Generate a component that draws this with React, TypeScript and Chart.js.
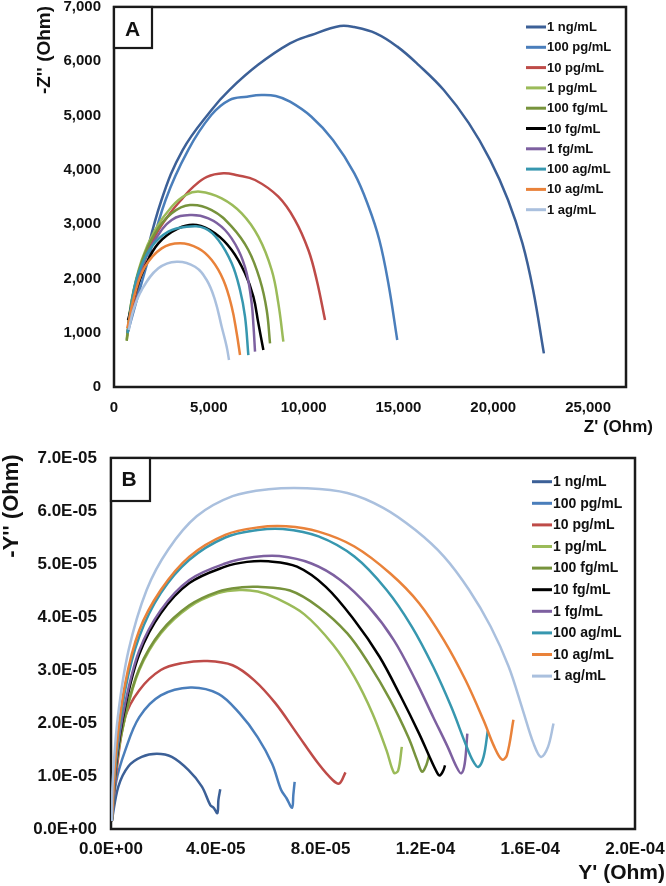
import { useEffect, useRef } from "react";
import { Chart, registerables } from "chart.js";

Chart.register(...registerables);

const LABELS = ["1 ng/mL", "100 pg/mL", "10 pg/mL", "1 pg/mL", "100 fg/mL", "10 fg/mL", "1 fg/mL", "100 ag/mL", "10 ag/mL", "1 ag/mL"];
const COLORS = ["#3C6097", "#4A7EBB", "#BE4B48", "#9BBB59", "#77933C", "#000000", "#7D60A0", "#3797AF", "#E9823A", "#AAC0DE"];

// Panel A: [Z' (Ohm), -Z'' (Ohm)]
const A_1NG: [number, number][] = [[700, 1000], [1550, 2220], [2500, 3440], [3620, 4365], [5130, 5100], [6080, 5470], [7580, 5930], [9280, 6330], [10410, 6485], [11920, 6650], [12670, 6630], [13810, 6515], [14940, 6270], [16070, 5930], [17390, 5470], [18710, 4860], [19840, 4180], [20780, 3445], [21540, 2645], [22100, 1790], [22670, 620]];
const A_100PG: [number, number][] = [[700, 980], [1700, 2215], [2720, 3445], [3910, 4365], [5130, 5010], [6080, 5286], [7020, 5348], [7774, 5378], [8528, 5360], [9283, 5256], [10411, 4979], [11545, 4550], [12674, 3936], [13428, 3321], [13993, 2708], [14467, 1910], [14937, 866]];
const A_10PG: [number, number][] = [[690, 940], [1000, 1500], [1500, 2200], [2200, 2800], [3000, 3220], [3600, 3470], [4190, 3690], [4900, 3870], [5770, 3936], [6500, 3900], [7437, 3813], [8667, 3505], [9546, 3076], [10250, 2523], [10689, 1971], [11129, 1234]];
const A_1PG: [number, number][] = [[670, 866], [932, 1602], [1459, 2339], [2162, 2892], [3041, 3321], [3800, 3540], [4536, 3598], [5679, 3475], [6735, 3199], [7613, 2769], [8315, 2155], [8667, 1541], [8931, 835]];
const A_100FG: [number, number][] = [[670, 850], [932, 1580], [1459, 2300], [2162, 2831], [3041, 3199], [4008, 3352], [5152, 3260], [6207, 2953], [7085, 2523], [7700, 1971], [8052, 1418], [8228, 805]];
const A_10FG: [number, number][] = [[740, 1230], [1107, 1726], [1635, 2216], [2338, 2646], [3393, 2923], [4360, 2984], [5327, 2831], [6207, 2523], [6909, 2094], [7349, 1664], [7613, 1173], [7877, 682]];
const A_1FG: [number, number][] = [[720, 1000], [1000, 1600], [1459, 2216], [2162, 2708], [3041, 3076], [4008, 3168], [4974, 3107], [5854, 2892], [6557, 2523], [6997, 2094], [7261, 1541], [7360, 1100], [7437, 651]];
const A_100AG: [number, number][] = [[720, 990], [950, 1600], [1283, 2094], [1987, 2585], [2866, 2861], [3832, 2953], [4800, 2923], [5503, 2708], [6207, 2278], [6646, 1787], [6909, 1295], [7085, 589]];
const A_10AG: [number, number][] = [[700, 1080], [1107, 1726], [1635, 2216], [2514, 2554], [3481, 2646], [4447, 2554], [5152, 2339], [5767, 1971], [6207, 1479], [6471, 989], [6646, 589]];
const A_1AG: [number, number][] = [[780, 1050], [1020, 1418], [1459, 1787], [2338, 2186], [3305, 2308], [4272, 2216], [4888, 1971], [5327, 1602], [5679, 1111], [5942, 743], [6065, 497]];

// Panel B: [Y' , -Y''] in units of 1E-05
const B_UNIT = 1e-5;
const B_1NG: [number, number][] = [[0.03, 0.15], [0.28, 0.8], [0.66, 1.18], [1.17, 1.36], [1.75, 1.42], [2.32, 1.36], [2.96, 1.11], [3.47, 0.8], [3.79, 0.45], [3.92, 0.4], [4.06, 0.3], [4.1, 0.55], [4.17, 0.75]];
const B_100PG: [number, number][] = [[0.03, 0.15], [0.2, 0.9], [0.54, 1.48], [1.08, 2.11], [1.9, 2.52], [3.03, 2.67], [4.1, 2.55], [4.91, 2.18], [5.6, 1.73], [6.15, 1.23], [6.49, 0.74], [6.7, 0.58], [6.91, 0.4], [6.96, 0.65], [7.01, 0.89]];
const B_10PG: [number, number][] = [[0.03, 0.15], [0.2, 1.05], [0.54, 2.11], [1.08, 2.62], [1.9, 3.0], [2.73, 3.13], [3.68, 3.17], [4.64, 3.09], [5.46, 2.81], [6.28, 2.37], [7.1, 1.8], [7.92, 1.23], [8.47, 0.92], [8.72, 0.86], [8.95, 1.07]];
const B_1PG: [number, number][] = [[0.03, 0.15], [0.2, 1.2], [0.54, 2.11], [1.08, 3.0], [1.9, 3.69], [2.99, 4.19], [4.09, 4.45], [4.9, 4.51], [5.6, 4.48], [6.28, 4.36], [7.38, 4.05], [8.47, 3.48], [9.29, 2.87], [9.98, 2.18], [10.52, 1.48], [10.8, 1.06], [10.96, 1.1], [11.1, 1.55]];
const B_100FG: [number, number][] = [[0.03, 0.15], [0.2, 1.22], [0.54, 2.14], [1.08, 3.03], [1.9, 3.72], [2.99, 4.22], [4.09, 4.48], [5.0, 4.56], [5.6, 4.57], [6.83, 4.5], [7.92, 4.19], [9.02, 3.69], [9.84, 3.12], [10.66, 2.43], [11.35, 1.73], [11.69, 1.29], [11.87, 1.08], [12.03, 1.2], [12.14, 1.39]];
const B_10FG: [number, number][] = [[0.03, 0.15], [0.2, 1.25], [0.54, 2.3], [1.08, 3.3], [1.9, 4.07], [2.99, 4.64], [4.36, 4.95], [5.19, 5.04], [6.01, 5.05], [7.1, 4.95], [8.2, 4.57], [9.29, 3.94], [10.25, 3.25], [11.07, 2.49], [11.76, 1.8], [12.16, 1.36], [12.44, 1.07], [12.55, 1.01], [12.68, 1.1], [12.75, 1.2]];
const B_1FG: [number, number][] = [[0.03, 0.15], [0.2, 1.3], [0.54, 2.37], [1.08, 3.37], [1.9, 4.13], [2.99, 4.7], [4.36, 5.01], [5.46, 5.13], [6.42, 5.15], [7.65, 5.01], [8.75, 4.7], [9.84, 4.19], [10.8, 3.56], [11.62, 2.81], [12.3, 2.11], [12.85, 1.55], [13.19, 1.17], [13.37, 1.05], [13.5, 1.23], [13.6, 1.8]];
const B_100AG: [number, number][] = [[0.03, 0.15], [0.2, 1.35], [0.54, 2.62], [1.08, 3.63], [1.9, 4.45], [2.99, 5.08], [4.36, 5.5], [5.6, 5.64], [6.56, 5.66], [7.92, 5.52], [9.29, 5.14], [10.52, 4.51], [11.48, 3.82], [12.3, 3.06], [12.99, 2.3], [13.53, 1.61], [13.81, 1.29], [14.02, 1.17], [14.22, 1.36], [14.38, 1.85]];
const B_10AG: [number, number][] = [[0.03, 0.15], [0.2, 1.48], [0.54, 2.74], [1.08, 3.75], [1.9, 4.51], [2.99, 5.14], [4.36, 5.55], [5.6, 5.69], [6.69, 5.71], [7.92, 5.61], [9.29, 5.33], [10.66, 4.82], [11.76, 4.26], [12.71, 3.56], [13.53, 2.81], [14.22, 2.05], [14.63, 1.55], [14.92, 1.31], [15.11, 1.39], [15.36, 2.06]];
const B_1AG: [number, number][] = [[0.03, 0.15], [0.06, 0.85], [0.26, 2.11], [0.67, 3.37], [1.36, 4.51], [2.18, 5.27], [3.27, 5.9], [4.64, 6.28], [6.01, 6.41], [7.45, 6.43], [9.02, 6.34], [10.39, 6.06], [11.62, 5.64], [12.71, 5.14], [13.67, 4.51], [14.49, 3.82], [15.18, 3.06], [15.72, 2.24], [16.13, 1.61], [16.41, 1.36], [16.68, 1.55], [16.89, 1.99]];

const A_SERIES = [A_1NG, A_100PG, A_10PG, A_1PG, A_100FG, A_10FG, A_1FG, A_100AG, A_10AG, A_1AG];
const B_SERIES = [B_1NG, B_100PG, B_10PG, B_1PG, B_100FG, B_10FG, B_1FG, B_100AG, B_10AG, B_1AG];

const A_X_TICKS = [0, 5000, 10000, 15000, 20000, 25000];
const A_Y_TICKS = [0, 1000, 2000, 3000, 4000, 5000, 6000, 7000];
const B_X_TICKS = [0, 4e-5, 8e-5, 1.2e-4, 1.6e-4, 2e-4];
const B_Y_TICKS = [0, 1e-5, 2e-5, 3e-5, 4e-5, 5e-5, 6e-5, 7e-5];

const FONT = "'Liberation Sans', Arial, sans-serif";

function sci(v: number): string {
  if (Math.abs(v) < 1e-12) return "0.0E+00";
  const e = Math.floor(Math.log10(Math.abs(v)) + 1e-9);
  const m = v / Math.pow(10, e);
  return m.toFixed(1) + "E" + (e < 0 ? "-" : "+") + String(Math.abs(e)).padStart(2, "0");
}

type Decor = {
  panel: string; panelW: number; panelH: number; panelFont: number; panelCx: number; panelCy: number;
  yTitle: string; yTitleX: number; yTitleY: number; yTitleFont: number;
  xTitle: string; xTitleRight: number; xTitleY: number; xTitleFont: number;
  legX: number; legLineW: number; legY0: number; legDy: number; legFont: number;
};

function makeDecor(d: Decor) {
  return {
    id: "decor",
    beforeDatasetsDraw(chart: any) {
      const { ctx, chartArea: a } = chart;
      ctx.save();
      ctx.strokeStyle = "#1a1a1a";
      ctx.lineWidth = 2.5;
      ctx.strokeRect(a.left, a.top, a.right - a.left, a.bottom - a.top);
      ctx.restore();
    },
    afterDraw(chart: any) {
      const { ctx, chartArea: a } = chart;
      ctx.save();
      ctx.fillStyle = "#ffffff";
      ctx.fillRect(a.left, a.top, d.panelW, d.panelH);
      ctx.strokeStyle = "#1a1a1a";
      ctx.lineWidth = 2.2;
      ctx.strokeRect(a.left, a.top, d.panelW, d.panelH);
      ctx.fillStyle = "#111111";
      ctx.font = `bold ${d.panelFont}px ${FONT}`;
      ctx.textAlign = "center";
      ctx.textBaseline = "middle";
      ctx.fillText(d.panel, a.left + d.panelCx, a.top + d.panelCy);
      ctx.font = `bold ${d.yTitleFont}px ${FONT}`;
      ctx.save();
      ctx.translate(d.yTitleX, d.yTitleY);
      ctx.rotate(-Math.PI / 2);
      ctx.textAlign = "center";
      ctx.textBaseline = "middle";
      ctx.fillText(d.yTitle, 0, 0);
      ctx.restore();
      ctx.font = `bold ${d.xTitleFont}px ${FONT}`;
      ctx.textAlign = "right";
      ctx.textBaseline = "middle";
      ctx.fillText(d.xTitle, d.xTitleRight, d.xTitleY);
      ctx.font = `bold ${d.legFont}px ${FONT}`;
      ctx.textAlign = "left";
      chart.data.datasets.forEach((ds: any, i: number) => {
        const y = d.legY0 + i * d.legDy;
        ctx.strokeStyle = ds.borderColor;
        ctx.lineWidth = 3;
        ctx.beginPath();
        ctx.moveTo(d.legX, y);
        ctx.lineTo(d.legX + d.legLineW, y);
        ctx.stroke();
        ctx.fillStyle = "#111111";
        ctx.fillText(ds.label, d.legX + d.legLineW + 1, y + 0.5);
      });
      ctx.restore();
    },
  };
}

function buildChart(
  canvas: HTMLCanvasElement,
  series: [number, number][][],
  unit: number,
  xMax: number,
  yMax: number,
  xTicks: number[],
  yTicks: number[],
  fmt: (v: number) => string,
  tickFont: number,
  padding: { top: number; right: number },
  yWidth: number,
  xHeight: number,
  yPad: number,
  xPad: number,
  tension: number,
  decor: Decor
) {
  const zeroPad = (s: any) => {
    s.paddingTop = 0;
    s.paddingBottom = 0;
    s.paddingLeft = 0;
    s.paddingRight = 0;
  };
  return new Chart(canvas, {
    type: "line",
    data: {
      datasets: series.map((pts, i) => ({
        label: LABELS[i],
        data: pts.map((p) => ({ x: p[0] * unit, y: p[1] * unit })),
        borderColor: COLORS[i],
        backgroundColor: COLORS[i],
        borderWidth: 2.5,
        pointRadius: 0,
        fill: false,
        tension,
        order: series.length - i,
      })),
    },
    options: {
      animation: false,
      responsive: false,
      maintainAspectRatio: false,
      layout: { padding: { left: 0, top: padding.top, right: padding.right, bottom: 0 } },
      plugins: { legend: { display: false }, tooltip: { enabled: false } },
      scales: {
        x: {
          type: "linear",
          min: 0,
          max: xMax,
          grid: { display: false, drawTicks: false },
          border: { display: false },
          afterBuildTicks: (ax: any) => {
            ax.ticks = xTicks.map((v) => ({ value: v }));
          },
          afterFit: (s: any) => {
            s.height = xHeight;
            zeroPad(s);
          },
          ticks: {
            padding: xPad,
            maxRotation: 0,
            autoSkip: false,
            color: "#111111",
            font: { family: FONT, size: tickFont, weight: "bold" },
            callback: (v: any) => fmt(Number(v)),
          },
        },
        y: {
          type: "linear",
          min: 0,
          max: yMax,
          grid: { display: false, drawTicks: false },
          border: { display: false },
          afterBuildTicks: (ax: any) => {
            ax.ticks = yTicks.map((v) => ({ value: v }));
          },
          afterFit: (s: any) => {
            s.width = yWidth;
            zeroPad(s);
          },
          ticks: {
            padding: yPad,
            autoSkip: false,
            color: "#111111",
            font: { family: FONT, size: tickFont, weight: "bold" },
            callback: (v: any) => fmt(Number(v)),
          },
        },
      },
    },
    plugins: [makeDecor(decor)],
  } as any);
}

export default function App() {
  const refA = useRef<HTMLCanvasElement | null>(null);
  const refB = useRef<HTMLCanvasElement | null>(null);

  useEffect(() => {
    if (!refA.current || !refB.current) return;
    const chartA = buildChart(
      refA.current, A_SERIES, 1, 27000, 7000, A_X_TICKS, A_Y_TICKS,
      (v) => Math.round(v).toLocaleString("en-US"), 15,
      { top: 7, right: 40 }, 114, 53, 13, 12, 0.4,
      {
        panel: "A", panelW: 38, panelH: 41, panelFont: 21, panelCx: 18.5, panelCy: 23,
        yTitle: "-Z'' (Ohm)", yTitleX: 45, yTitleY: 50, yTitleFont: 19,
        xTitle: "Z' (Ohm)", xTitleRight: 653, xTitleY: 427, xTitleFont: 17,
        legX: 526, legLineW: 20, legY0: 27, legDy: 20.3, legFont: 13,
      }
    );
    const chartB = buildChart(
      refB.current, B_SERIES, B_UNIT, 2e-4, 7e-5, B_X_TICKS, B_Y_TICKS,
      sci, 17,
      { top: 18, right: 31 }, 111, 57, 14, 10, 0.35,
      {
        panel: "B", panelW: 39, panelH: 43, panelFont: 21, panelCx: 18, panelCy: 22,
        yTitle: "-Y'' (Ohm)", yTitleX: 12, yTitleY: 66, yTitleFont: 22,
        xTitle: "Y' (Ohm)", xTitleRight: 665, xTitleY: 433, xTitleFont: 21,
        legX: 532, legLineW: 20, legY0: 41.7, legDy: 21.6, legFont: 14,
      }
    );
    return () => {
      chartA.destroy();
      chartB.destroy();
    };
  }, []);

  return (
    <div style={{ position: "absolute", left: 0, top: 0, width: 666, height: 886, background: "#ffffff" }}>
      <canvas ref={refA} width={666} height={440} style={{ position: "absolute", left: 0, top: 0, width: 666, height: 440 }} />
      <canvas ref={refB} width={666} height={446} style={{ position: "absolute", left: 0, top: 440, width: 666, height: 446 }} />
    </div>
  );
}
